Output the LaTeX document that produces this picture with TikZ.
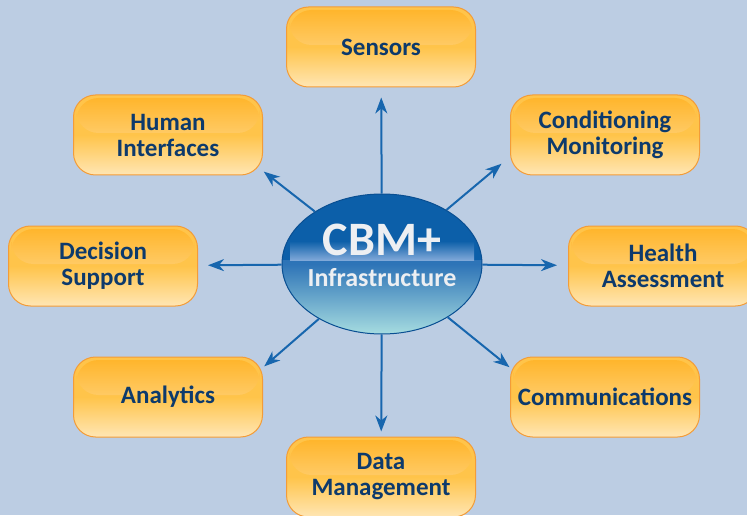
\documentclass[tikz,border=0pt]{standalone}
\usepackage{fontspec}
\setmainfont{Carlito}
\usetikzlibrary{calc,arrows.meta,shapes.geometric}
\definecolor{backdrop}{HTML}{BCCDE3}
\definecolor{ink}{HTML}{0D3A6C}
\definecolor{flowblue}{HTML}{1766AE}
\definecolor{tileRim}{HTML}{F39C38}
\definecolor{tileTop}{HTML}{FFB428}
\definecolor{tileGloss}{HTML}{FFE2A6}
\definecolor{tileLow}{HTML}{FFC44A}
\definecolor{tilePale}{HTML}{FFE6B4}
\definecolor{hubDark}{HTML}{0C5FA9}
\definecolor{hubGloss}{HTML}{7FA8D8}
\definecolor{hubMid}{HTML}{1A67AE}
\definecolor{hubHalf}{HTML}{2E74B7}
\definecolor{hubPale}{HTML}{A6DCE0}
\definecolor{hubRim}{HTML}{0A4F92}
\definecolor{hubText}{HTML}{EDEFF2}

\begin{document}
\begin{tikzpicture}[x=1pt,y=1pt]
       \tikzstyle{tile} = [rectangle, rounded corners=22pt, minimum width=189pt, minimum height=80pt,
         draw=tileRim, line width=1pt, top color=tileLow, bottom color=tilePale, middle color=tileLow,
         align=center, text=ink, font=\fontsize{25}{26}\selectfont\bfseries,
         path picture={\shade[top color=tileTop, bottom color=tileGloss]
           ($(path picture bounding box.north west)+(3,-3)$) rectangle ($(path picture bounding box.east)+(-3,2)$);}];
       \tikzstyle{hub} = [ellipse, minimum width=200pt, minimum height=140pt, inner sep=0pt,
         draw=hubRim, line width=1pt, fill=hubDark,
         path picture={
           \shade[top color=hubMid, bottom color=hubPale, middle color=hubHalf] (path picture bounding box.south west) rectangle ($(path picture bounding box.east)+(0,4)$);
           \shade[top color=hubDark, bottom color=hubGloss] ($(path picture bounding box.west)+(8,4)$) rectangle ($(path picture bounding box.east)+(-8,23)$);}];
       \tikzstyle{hubtext} = [text=hubText, anchor=base, inner sep=0pt];
       \tikzstyle{flow} = [draw=flowblue, line width=2pt, -{Stealth[length=16pt,width=12pt,inset=5pt]}];

       \useasboundingbox (0,0) rectangle (747,515);
       \fill[backdrop] (0,0) rectangle (747,515);

       % hub in the middle
       \node[hub] (core) at (382,251) {};
       \node[hubtext, font=\fontsize{48}{48}\selectfont\bfseries] (cbm) at (382,260) {CBM+};
       \node[hubtext, font=\fontsize{26}{26}\selectfont\bfseries] (infra) at (382,229) {Infrastructure};

       % the eight tiles round it
       \node[tile] (sensors) at (381,468) {Sensors};
       \node[tile] (human) at (168,380) {Human\\Interfaces};
       \node[tile] (conditioning) at (605,380) {Conditioning\\Monitoring};
       \node[tile] (decision) at (103,249) {Decision\\Support};
       \node[tile] (health) at (663,249) {Health\\Assessment};
       \node[tile] (analytics) at (168,118) {Analytics};
       \node[tile] (comms) at (605,118) {Communications};
       \node[tile] (data) at (381,38) {Data\\Management};

       \coordinate (toConditioning) at ($(core.center)+(40:156)$);
       \coordinate (toHuman) at ($(core.center)+(142:150)$);
       \coordinate (toComms) at ($(core.center)+(-39:164)$);
       \coordinate (toAnalytics) at ($(core.center)+(221:156)$);

       \draw[flow, shorten >=10pt] (core) -- (sensors);
       \draw[flow, shorten >=5pt] (core) -- (data);
       \draw[flow, shorten >=10pt] (core) -- (decision);
       \draw[flow, shorten >=11pt] (core) -- (health);
       \draw[flow] (core) -- (toConditioning);
       \draw[flow] (core) -- (toHuman);
       \draw[flow] (core) -- (toComms);
       \draw[flow] (core) -- (toAnalytics);
\end{tikzpicture}
\end{document}
